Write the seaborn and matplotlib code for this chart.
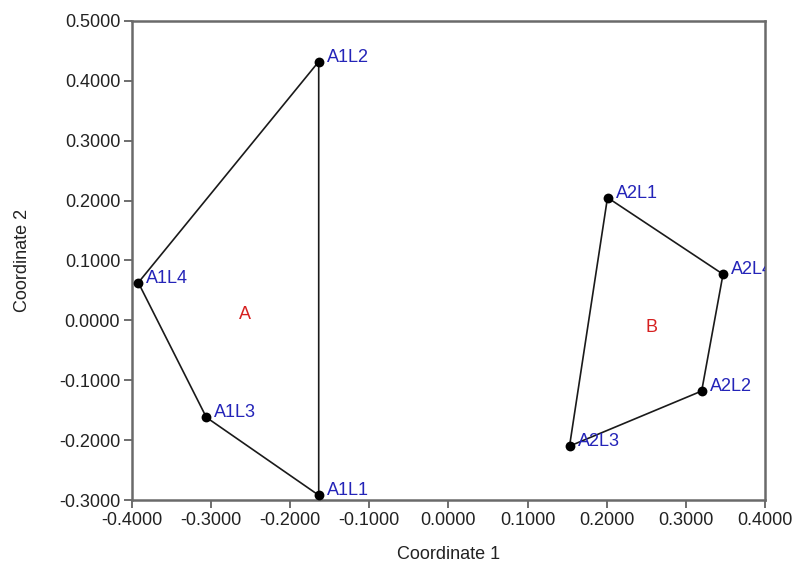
import matplotlib
matplotlib.use("Agg")
import matplotlib.pyplot as plt
import seaborn as sns
import pandas as pd
import numpy as np

# Data
names_a = ["A1L2", "A1L4", "A1L3", "A1L1"]
x_a = [-0.164, -0.392, -0.306, -0.164]
y_a = [0.432, 0.063, -0.162, -0.292]

names_b = ["A2L1", "A2L4", "A2L2", "A2L3"]
x_b = [0.201, 0.347, 0.320, 0.153]
y_b = [0.205, 0.077, -0.118, -0.210]

groups = ["A", "B"]
group_x = [-0.257, 0.256]
group_y = [0.010, -0.012]

xticks = [-0.4, -0.3, -0.2, -0.1, 0.0, 0.1, 0.2, 0.3, 0.4]
yticks = [-0.3, -0.2, -0.1, 0.0, 0.1, 0.2, 0.3, 0.4, 0.5]

sns.set_style("white")
plt.rcParams['font.family'] = ['Liberation Sans', 'DejaVu Sans']

FS = 13

fig = plt.figure(figsize=(7.97, 5.65), dpi=100)
ax = fig.add_axes([0.1656, 0.115, 0.7942, 0.848])

def closed(xs, ys):
    return pd.DataFrame({"x": list(xs) + [xs[0]], "y": list(ys) + [ys[0]],
                         "o": range(len(xs) + 1)})

for xs, ys in [(x_a, y_a), (x_b, y_b)]:
    d = closed(xs, ys)
    sns.lineplot(data=d, x="x", y="y", sort=False, estimator=None,
                 color="#1a1a1a", linewidth=1.2, ax=ax)

pts = pd.DataFrame({"x": x_a + x_b, "y": y_a + y_b, "n": names_a + names_b})
sns.scatterplot(data=pts, x="x", y="y", color="black", s=50, edgecolor="black",
                linewidth=0, ax=ax, zorder=5)

for _, r in pts.iterrows():
    ax.annotate(r["n"], (r["x"], r["y"]), xytext=(8, 0), textcoords="offset pixels",
                color="#2424b8", fontsize=FS, ha="left", va="baseline",
                annotation_clip=False, clip_on=True)

for g, gx, gy in zip(groups, group_x, group_y):
    ax.text(gx, gy, g, color="#d62020", fontsize=FS, ha="center", va="center")

ax.set_xlim(-0.4, 0.4)
ax.set_ylim(-0.3, 0.5)
ax.set_xticks(xticks)
ax.set_yticks(yticks)
ax.set_xticklabels([f"{v:.4f}" for v in xticks])
ax.set_yticklabels([f"{v:.4f}" for v in yticks])
ax.tick_params(axis="both", direction="out", length=5.5, width=1.2, color="#555555",
               labelsize=FS, labelcolor="#222222", bottom=True, left=True, pad=3)
for s in ax.spines.values():
    s.set_color("#6a6a6a")
    s.set_linewidth(1.8)
ax.set_xlabel("Coordinate 1", fontsize=FS, color="#222222")
ax.set_ylabel("Coordinate 2", fontsize=FS, color="#222222")
ax.xaxis.set_label_coords(0.5, -0.097)
ax.yaxis.set_label_coords(-0.16, 0.5)

fig.savefig("out.png", dpi=100)
